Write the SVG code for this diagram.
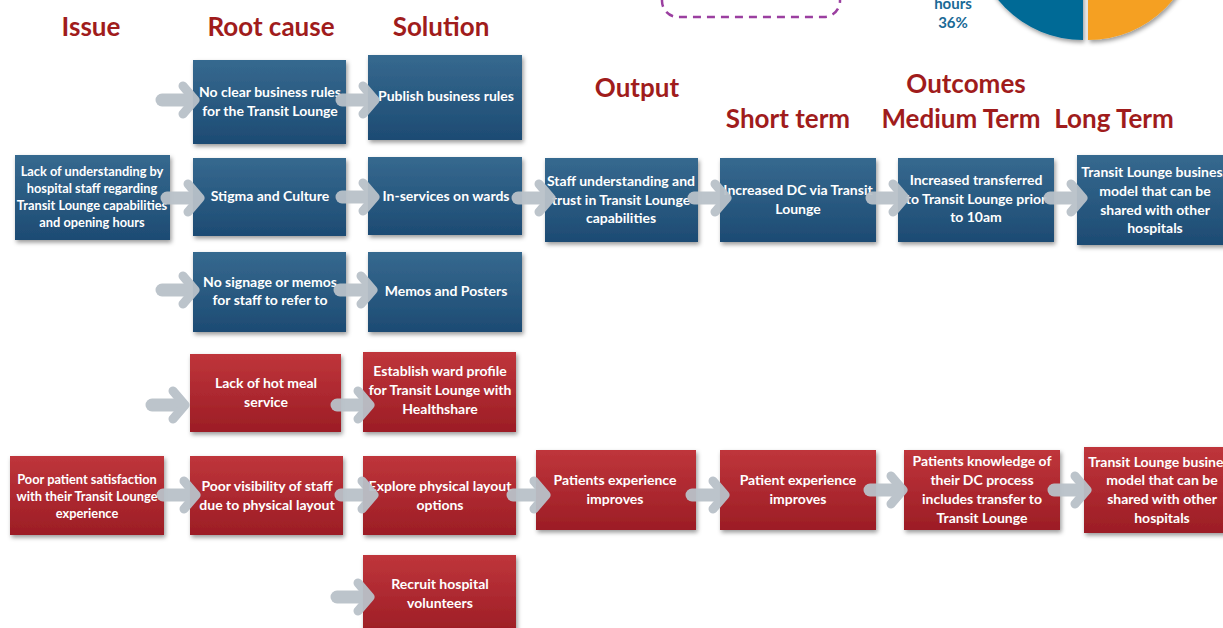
<svg xmlns="http://www.w3.org/2000/svg" width="1223" height="628" viewBox="0 0 1223 628">
<defs>
<linearGradient id="gb" x1="0" y1="0" x2="0" y2="1"><stop offset="0" stop-color="#36698f"/><stop offset="1" stop-color="#1d4b73"/></linearGradient>
<linearGradient id="gr" x1="0" y1="0" x2="0" y2="1"><stop offset="0" stop-color="#bf353b"/><stop offset="1" stop-color="#9c1d25"/></linearGradient>
<filter id="sh" x="-10%" y="-10%" width="130%" height="130%"><feDropShadow dx="1.5" dy="2.5" stdDeviation="2" flood-color="#000" flood-opacity="0.4"/></filter>
<g id="arr"><path d="M0,0 H28" stroke-width="13" stroke-linecap="round"/><path d="M21,-14 L33,0 L21,14" stroke-width="9" stroke-linecap="round" stroke-linejoin="round" fill="none"/></g>
</defs>
<style>
.b{fill:url(#gb);filter:url(#sh)}
.r{fill:url(#gr);filter:url(#sh)}
.t{font-family:Lato,"Liberation Sans",sans-serif;font-weight:700;font-size:14px;fill:#fff;text-anchor:middle}
.s{font-size:12.8px}
.h{font-family:Lato,"Liberation Sans",sans-serif;font-weight:700;font-size:26px;fill:#a01c1c;text-anchor:middle}
.c{stroke:#b9c1c9;fill:none;opacity:0.95}
</style>
<rect width="1223" height="628" fill="#fff"/>
<g id="legend">
<rect x="662" y="-60" width="178" height="77" rx="16" fill="#fff" stroke="#9b3fa0" stroke-width="2.5" stroke-dasharray="8 6"/>
<text x="953" y="9" font-family="Lato,'Liberation Sans',sans-serif" font-weight="700" font-size="15" fill="#1a6a96" text-anchor="middle">hours</text>
<text x="953" y="28" font-family="Lato,'Liberation Sans',sans-serif" font-weight="700" font-size="15" fill="#1a6a96" text-anchor="middle">36%</text>
</g>
<g id="pie" filter="url(#sh)">
<path d="M1083,-70 L1083,40 A110,110 0 0,1 1083,-180 Z" fill="#006a96"/>
<path d="M1088,-70 L1088,40 A110,110 0 0,0 1088,-180 Z" fill="#f5a020"/>
</g>
<g id="headers">
<text class="h" x="91" y="36">Issue</text>
<text class="h" x="271" y="36">Root cause</text>
<text class="h" x="441" y="36">Solution</text>
<text class="h" x="637" y="97">Output</text>
<text class="h" x="966" y="93">Outcomes</text>
<text class="h" x="788" y="128">Short term</text>
<text class="h" x="961" y="128">Medium Term</text>
<text class="h" x="1114" y="128">Long Term</text>
</g>
<g id="n-issue1"><rect class="b" x="15" y="155" width="155" height="85"/><text class="t s" x="92" y="176">Lack of understanding by</text><text class="t s" x="92" y="193">hospital staff regarding</text><text class="t s" x="92" y="210">Transit Lounge capabilities</text><text class="t s" x="92" y="227">and opening hours</text></g>
<g id="n-root1"><rect class="b" x="193" y="60" width="153" height="84"/><text class="t" x="270" y="97">No clear business rules</text><text class="t" x="270" y="116">for the Transit Lounge</text></g>
<g id="n-root2"><rect class="b" x="193" y="158" width="153" height="78"/><text class="t" x="270" y="201">Stigma and Culture</text></g>
<g id="n-root3"><rect class="b" x="193" y="252" width="153" height="80"/><text class="t" x="270" y="287">No signage or memos</text><text class="t" x="270" y="305">for staff to refer to</text></g>
<g id="n-sol1"><rect class="b" x="368" y="55" width="154" height="85"/><text class="t" x="446" y="101">Publish business rules</text></g>
<g id="n-sol2"><rect class="b" x="368" y="157" width="154" height="78"/><text class="t" x="446" y="201">In-services on wards</text></g>
<g id="n-sol3"><rect class="b" x="368" y="252" width="154" height="80"/><text class="t" x="446" y="296">Memos and Posters</text></g>
<g id="n-out1"><rect class="b" x="545" y="158" width="153" height="84"/><text class="t" x="621" y="186">Staff understanding and</text><text class="t" x="621" y="205">trust in Transit Lounge</text><text class="t" x="621" y="223">capabilities</text></g>
<g id="n-short1"><rect class="b" x="720" y="158" width="156" height="84"/><text class="t" x="798" y="195">Increased DC via Transit</text><text class="t" x="798" y="214">Lounge</text></g>
<g id="n-med1"><rect class="b" x="898" y="158" width="156" height="84"/><text class="t" x="976" y="185">Increased transferred</text><text class="t" x="976" y="204">to Transit Lounge prior</text><text class="t" x="976" y="222">to 10am</text></g>
<g id="n-long1"><rect class="b" x="1077" y="155" width="160" height="90"/><text class="t" x="1155" y="177">Transit Lounge business</text><text class="t" x="1155" y="196">model that can be</text><text class="t" x="1155" y="215">shared with other</text><text class="t" x="1155" y="233">hospitals</text></g>
<g id="n-root4"><rect class="r" x="190" y="354" width="151" height="78"/><text class="t" x="266" y="388">Lack of hot meal</text><text class="t" x="266" y="407">service</text></g>
<g id="n-sol4"><rect class="r" x="363" y="352" width="153" height="80"/><text class="t" x="440" y="376">Establish ward profile</text><text class="t" x="440" y="395">for Transit Lounge with</text><text class="t" x="440" y="414">Healthshare</text></g>
<g id="n-issue2"><rect class="r" x="10" y="456" width="154" height="79"/><text class="t s" x="87" y="484">Poor patient  satisfaction</text><text class="t s" x="87" y="501">with their Transit Lounge</text><text class="t s" x="87" y="518">experience</text></g>
<g id="n-root5"><rect class="r" x="190" y="456" width="153" height="79"/><text class="t" x="267" y="491">Poor visibility of staff</text><text class="t" x="267" y="510">due to physical layout</text></g>
<g id="n-sol5"><rect class="r" x="363" y="456" width="153" height="79"/><text class="t" x="440" y="491">Explore physical layout</text><text class="t" x="440" y="510">options</text></g>
<g id="n-out2"><rect class="r" x="536" y="450" width="160" height="80"/><text class="t" x="615" y="485">Patients experience</text><text class="t" x="615" y="504">improves</text></g>
<g id="n-short2"><rect class="r" x="720" y="450" width="156" height="80"/><text class="t" x="798" y="485">Patient experience</text><text class="t" x="798" y="504">improves</text></g>
<g id="n-med2"><rect class="r" x="904" y="450" width="156" height="80"/><text class="t" x="982" y="466">Patients knowledge of</text><text class="t" x="982" y="485">their DC process</text><text class="t" x="982" y="504">includes transfer to</text><text class="t" x="982" y="523">Transit Lounge</text></g>
<g id="n-long2"><rect class="r" x="1084" y="447" width="150" height="86"/><text class="t" x="1162" y="467">Transit Lounge business</text><text class="t" x="1162" y="485">model that can be</text><text class="t" x="1162" y="504">shared with other</text><text class="t" x="1162" y="523">hospitals</text></g>
<g id="n-sol6"><rect class="r" x="363" y="555" width="153" height="80"/><text class="t" x="440" y="589">Recruit hospital</text><text class="t" x="440" y="608">volunteers</text></g>
<g id="connectors" class="c">
<use href="#arr" x="162" y="100"/>
<use href="#arr" x="342" y="100"/>
<use href="#arr" x="167" y="198"/>
<use href="#arr" x="342" y="197"/>
<use href="#arr" x="518" y="198"/>
<use href="#arr" x="694" y="198"/>
<use href="#arr" x="872" y="198"/>
<use href="#arr" x="1050" y="198"/>
<use href="#arr" x="162" y="290"/>
<use href="#arr" x="340" y="290"/>
<use href="#arr" x="152" y="405"/>
<use href="#arr" x="337" y="405"/>
<use href="#arr" x="163" y="495"/>
<use href="#arr" x="341" y="495"/>
<use href="#arr" x="513" y="495"/>
<use href="#arr" x="692" y="495"/>
<use href="#arr" x="870" y="490"/>
<use href="#arr" x="1054" y="490"/>
<use href="#arr" x="337" y="597"/>
</g>
</svg>
